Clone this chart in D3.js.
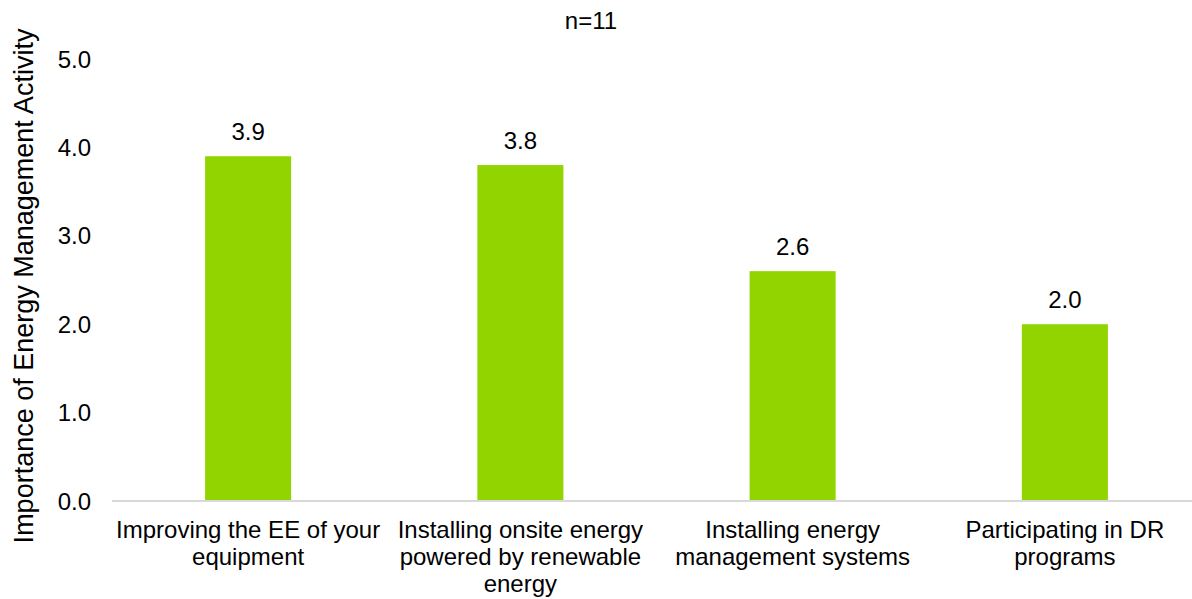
<!DOCTYPE html>
<html>
<head>
<meta charset="utf-8">
<script src="https://cdn.jsdelivr.net/npm/d3@7"></script>
<style>
  html, body { margin: 0; padding: 0; background: #fff; }
  svg { display: block; }
  text { font-family: "Liberation Sans", Arial, sans-serif; fill: #000; }
</style>
</head>
<body>
<svg id="chart" width="1192" height="599"></svg>
<script>
// Survey results: mean importance rating per energy management activity
const categories = [
  ["Improving the EE of your", "equipment"],
  ["Installing onsite energy", "powered by renewable", "energy"],
  ["Installing energy", "management systems"],
  ["Participating in DR", "programs"]
];
const values = [3.9, 3.8, 2.6, 2.0];
const yTicks = [0, 1, 2, 3, 4, 5];
const title = "n=11";
const yTitle = "Importance of Energy Management Activity";

(function draw() {
  const svg = d3.select("#chart");
  const W = 1192;
  const plotLeft = 112, plotRight = 1201, plotTop = 59, plotBottom = 501;

  const keys = categories.map((c, i) => i);
  const x = d3.scaleBand().domain(keys).range([plotLeft, plotRight])
    .paddingInner(0.684).paddingOuter(0.342);
  const y = d3.scaleLinear().domain([0, 5]).range([plotBottom, plotTop]);

  // title
  svg.append("text")
    .attr("x", 591).attr("y", 29)
    .attr("text-anchor", "middle")
    .attr("font-size", 24)
    .text(title);

  // y axis title
  svg.append("text")
    .attr("transform", "translate(33,286) rotate(-90)")
    .attr("text-anchor", "middle")
    .attr("font-size", 27)
    .text(yTitle);

  // y tick labels
  const yAxis = d3.axisLeft(y).tickValues(yTicks).tickFormat(d3.format(".1f"))
    .tickSize(0).tickPadding(0);
  const gy = svg.append("g").attr("transform", "translate(91,0)").call(yAxis);
  gy.select(".domain").remove();
  gy.selectAll("text")
    .attr("font-size", 24)
    .attr("font-family", "Liberation Sans, Arial, sans-serif")
    .attr("fill", "#000")
    .attr("dy", "0.34em");

  // bars
  svg.append("g").selectAll("rect")
    .data(values)
    .join("rect")
    .attr("x", (d, i) => x(i))
    .attr("width", x.bandwidth())
    .attr("y", d => y(d))
    .attr("height", d => y(0) - y(d))
    .attr("fill", "#92d400");

  // baseline
  svg.append("line")
    .attr("x1", plotLeft).attr("x2", W)
    .attr("y1", y(0)).attr("y2", y(0))
    .attr("stroke", "#d9d9d9").attr("stroke-width", 2);

  // value labels
  svg.append("g").selectAll("text")
    .data(values)
    .join("text")
    .attr("x", (d, i) => x(i) + x.bandwidth() / 2)
    .attr("y", d => y(d) - 16)
    .attr("text-anchor", "middle")
    .attr("font-size", 24)
    .text(d => d3.format(".1f")(d));

  // category labels
  const gx = svg.append("g");
  categories.forEach((lines, i) => {
    const t = gx.append("text")
      .attr("text-anchor", "middle")
      .attr("font-size", 24);
    lines.forEach((ln, j) => {
      t.append("tspan")
        .attr("x", x(i) + x.bandwidth() / 2)
        .attr("y", 538 + j * 27)
        .text(ln);
    });
  });
})();
</script>
</body>
</html>
